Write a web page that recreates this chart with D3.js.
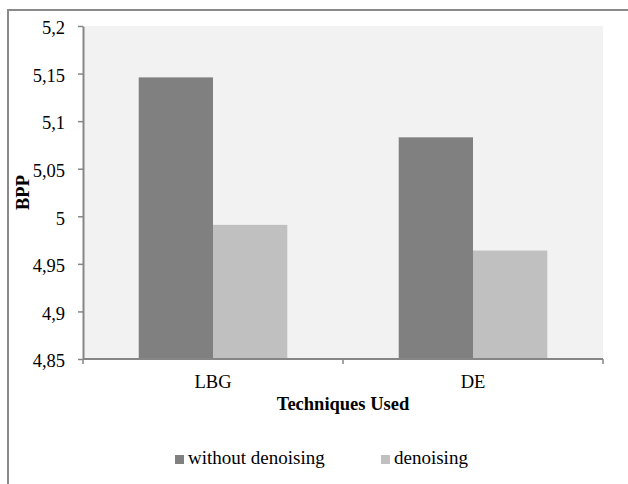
<!DOCTYPE html>
<html lang="en">
<head>
<meta charset="UTF-8">
<title>BPP chart</title>
<script src="https://d3js.org/d3.v7.min.js"></script>
<style>
  body { margin: 0; background: #fff; }
  svg text { font-family: "Liberation Serif", "Times New Roman", serif; fill: #000; }
</style>
</head>
<body>
<div id="chart"></div>
<script>
  // data
  const categories = ["LBG", "DE"];
  const seriesNames = ["without denoising", "denoising"];
  const withoutDenoising = [5.146, 5.083];
  const denoising = [4.991, 4.964];
  const yTicks = [4.85, 4.9, 4.95, 5, 5.05, 5.1, 5.15, 5.2];
  const colours = ["#808080", "#c0c0c0"];

  const W = 628, H = 484;
  const plot = { left: 83, top: 26, right: 603, bottom: 359 };

  const svg = d3.select("#chart").append("svg")
    .attr("width", W).attr("height", H);

  // outer chart border (runs off the right and bottom of the picture)
  svg.append("rect")
    .attr("x", 8).attr("y", 10)
    .attr("width", 700).attr("height", 600)
    .attr("fill", "none")
    .attr("stroke", "#8a8a8a")
    .attr("stroke-width", 2);

  // plot area background
  svg.append("rect")
    .attr("x", plot.left).attr("y", plot.top)
    .attr("width", plot.right - plot.left)
    .attr("height", plot.bottom - plot.top)
    .attr("fill", "#f2f2f2");

  const y = d3.scaleLinear().domain([4.85, 5.2]).range([plot.bottom, plot.top]);
  const x0 = d3.scaleBand().domain(categories).range([plot.left, plot.right]);
  // Excel gap width 150%: band = 2 bars + 1.5 bar
  const gap = x0.bandwidth() * 1.5 / 3.5;
  const x1 = d3.scaleBand().domain(seriesNames).range([gap / 2, x0.bandwidth() - gap / 2]);

  const table = categories.map((c, i) => ({
    cat: c,
    vals: [
      { name: seriesNames[0], v: withoutDenoising[i] },
      { name: seriesNames[1], v: denoising[i] }
    ]
  }));

  const colour = d3.scaleOrdinal().domain(seriesNames).range(colours);

  svg.append("g").selectAll("g")
    .data(table)
    .join("g")
    .attr("transform", d => "translate(" + x0(d.cat) + ",0)")
    .selectAll("rect")
    .data(d => d.vals)
    .join("rect")
    .attr("x", d => x1(d.name))
    .attr("y", d => y(d.v))
    .attr("width", x1.bandwidth())
    .attr("height", d => plot.bottom - y(d.v))
    .attr("fill", d => colour(d.name));

  // y axis
  const yAxis = svg.append("g")
    .attr("transform", "translate(" + plot.left + ",0)")
    .call(d3.axisLeft(y).tickValues(yTicks).tickSizeInner(5).tickSizeOuter(0)
      .tickFormat(d => String(+d.toFixed(2)).replace(".", ",")));
  yAxis.attr("font-family", null).attr("font-size", null);
  yAxis.select(".domain").attr("stroke", "#868686").attr("stroke-width", 2);
  yAxis.selectAll(".tick line").attr("stroke", "#868686").attr("stroke-width", 1.5);
  yAxis.selectAll(".tick text")
    .attr("x", -18)
    .attr("dy", "0.42em")
    .style("font-size", "18.5px");

  // x axis: ticks between categories
  const xAxis = svg.append("g")
    .attr("transform", "translate(0," + plot.bottom + ")");
  xAxis.append("line")
    .attr("x1", plot.left).attr("x2", plot.right)
    .attr("stroke", "#868686").attr("stroke-width", 2);
  const edges = [plot.left].concat(categories.map(c => x0(c) + x0.bandwidth()));
  xAxis.selectAll(".xt").data(edges).join("line")
    .attr("class", "xt")
    .attr("x1", d => d).attr("x2", d => d)
    .attr("y1", 0).attr("y2", 5)
    .attr("stroke", "#868686").attr("stroke-width", 1.5);
  xAxis.selectAll(".xl").data(categories).join("text")
    .attr("class", "xl")
    .attr("x", d => x0(d) + x0.bandwidth() / 2)
    .attr("y", 29)
    .attr("text-anchor", "middle")
    .style("font-size", "18.5px")
    .text(d => d);

  // axis titles
  svg.append("text")
    .attr("x", (plot.left + plot.right) / 2)
    .attr("y", 410)
    .attr("text-anchor", "middle")
    .style("font-size", "18.5px")
    .style("font-weight", "bold")
    .text("Techniques Used");

  svg.append("text")
    .attr("transform", "translate(29," + (plot.top + plot.bottom) / 2 + ") rotate(-90)")
    .attr("text-anchor", "middle")
    .style("font-size", "18.5px")
    .style("font-weight", "bold")
    .text("BPP");

  // legend
  const legendX = [175, 381];
  const legend = svg.append("g");
  legend.selectAll("rect").data(seriesNames).join("rect")
    .attr("x", (d, i) => legendX[i])
    .attr("y", 455)
    .attr("width", 9).attr("height", 9)
    .attr("fill", d => colour(d));
  legend.selectAll("text").data(seriesNames).join("text")
    .attr("x", (d, i) => legendX[i] + 13)
    .attr("y", 464)
    .style("font-size", "19px")
    .text(d => d);
</script>
</body>
</html>
